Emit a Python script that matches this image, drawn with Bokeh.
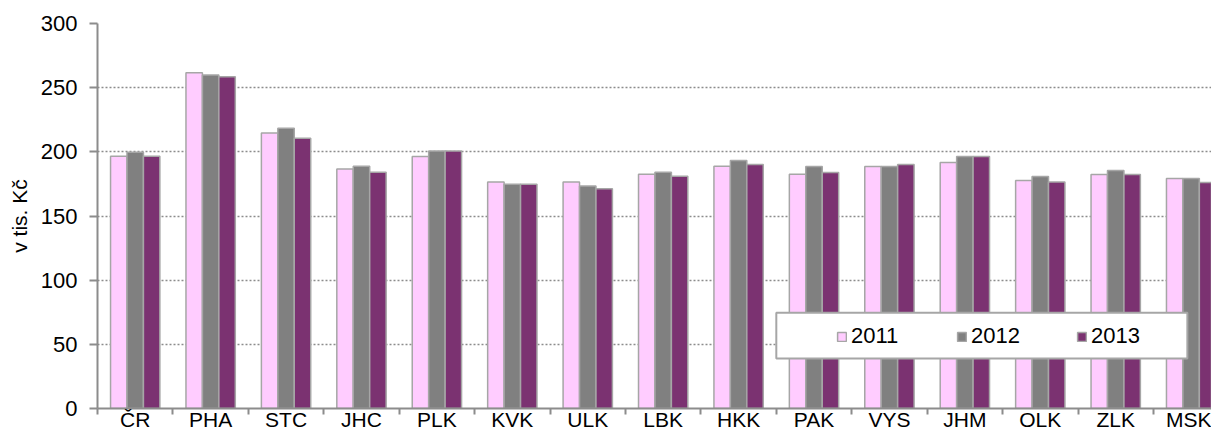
import numpy as np
from bokeh.plotting import figure
from bokeh.models import (ColumnDataSource, Range1d, FixedTicker, Legend, LegendItem,
                          BoxAnnotation)
from bokeh.transform import dodge
from bokeh.embed import file_html
from bokeh.resources import INLINE

categories = ["ČR", "PHA", "STC", "JHC", "PLK", "KVK", "ULK", "LBK", "HKK",
              "PAK", "VYS", "JHM", "OLK", "ZLK", "MSK"]
years = ["2011", "2012", "2013"]
v2011 = [196.6, 261.6, 214.7, 186.7, 196.3, 176.4, 176.4, 182.6, 188.8, 182.6, 188.6, 191.7, 177.7, 182.3, 179.2]
v2012 = [199.7, 259.8, 218.3, 188.8, 200.7, 174.8, 173.3, 184.1, 193.2, 188.6, 188.6, 196.3, 180.8, 185.4, 179.2]
v2013 = [196.6, 258.5, 210.6, 184.1, 200.7, 174.8, 171.2, 181.0, 190.1, 183.9, 190.1, 196.3, 176.4, 182.3, 176.1]
y_ticks = [0, 50, 100, 150, 200, 250, 300]
colors = ["#ffccff", "#808080", "#7b3271"]

FONT = "Liberation Sans"
FS = "22px"
GRAY = "#8c8c8c"

n = len(categories)
centers = [i + 0.5 for i in range(n)]
src = ColumnDataSource(dict(pos=centers, v2011=v2011, v2012=v2012, v2013=v2013))

p = figure(width=1211, height=433, output_backend="svg", toolbar_location=None,
           x_range=Range1d(0, 14.77), y_range=Range1d(0, 300),
           min_border_left=97, min_border_right=0, min_border_top=23, min_border_bottom=25)
p.outline_line_color = None
p.background_fill_color = "white"

bw = 0.218
renderers = []
for k, (col, c) in enumerate(zip(["v2011", "v2012", "v2013"], colors)):
    r = p.vbar(x=dodge("pos", (k - 1) * bw, range=p.x_range), top=col, width=bw,
               source=src, fill_color=c, line_color="#a6a6a6", line_width=1.5)
    renderers.append(r)

# grid
p.xgrid.visible = False
p.ygrid.ticker = FixedTicker(ticks=y_ticks)
p.ygrid.grid_line_color = GRAY
p.ygrid.grid_line_dash = "2 2"
p.ygrid.grid_line_width = 1.5

# y axis
ya = p.yaxis[0]
ya.ticker = FixedTicker(ticks=y_ticks)
ya.axis_line_color = GRAY
ya.axis_line_width = 2
ya.major_tick_line_color = GRAY
ya.major_tick_line_width = 2
ya.major_tick_out = 8
ya.major_tick_in = 0
ya.minor_tick_line_color = None
ya.major_label_standoff = 12
ya.major_label_text_font = FONT
ya.major_label_text_font_size = FS
ya.major_label_text_color = "black"
ya.axis_label = "v tis. Kč"
ya.axis_label_text_font = FONT
ya.axis_label_text_font_size = "21px"
ya.axis_label_text_font_style = "normal"
ya.axis_label_text_color = "black"
ya.axis_label_standoff = 7

# x axis (category labels at centres, tick marks at category boundaries)
xa = p.xaxis[0]
xa.ticker = FixedTicker(ticks=centers, minor_ticks=list(range(n + 1)))
xa.major_label_overrides = {c: name for c, name in zip(centers, categories)}
xa.axis_line_color = GRAY
xa.axis_line_width = 2
xa.major_tick_out = 0
xa.major_tick_in = 0
xa.major_tick_line_color = None
xa.minor_tick_out = 6
xa.minor_tick_in = 0
xa.minor_tick_line_color = GRAY
xa.minor_tick_line_width = 2
xa.major_label_standoff = -7
xa.major_label_text_font = FONT
xa.major_label_text_font_size = "21px"
xa.major_label_text_color = "black"

# legend frame and legend
box = BoxAnnotation(left=9.0, right=14.45, top=74.6, bottom=38.9,
                    fill_color="white", fill_alpha=1.0,
                    line_color="#a6a6a6", line_width=2, line_alpha=1.0)
p.add_layout(box)

legend = Legend(items=[LegendItem(label=y, renderers=[r]) for y, r in zip(years, renderers)],
                orientation="horizontal", location=(739, 59),
                background_fill_alpha=0, border_line_alpha=0,
                padding=0, margin=0, spacing=0,
                glyph_width=11, glyph_height=11, label_standoff=4,
                label_width=105, label_height=24,
                label_text_font=FONT, label_text_font_size=FS, label_text_color="black")
p.add_layout(legend, "center")

open("out.html", "w").write(file_html(p, INLINE))
